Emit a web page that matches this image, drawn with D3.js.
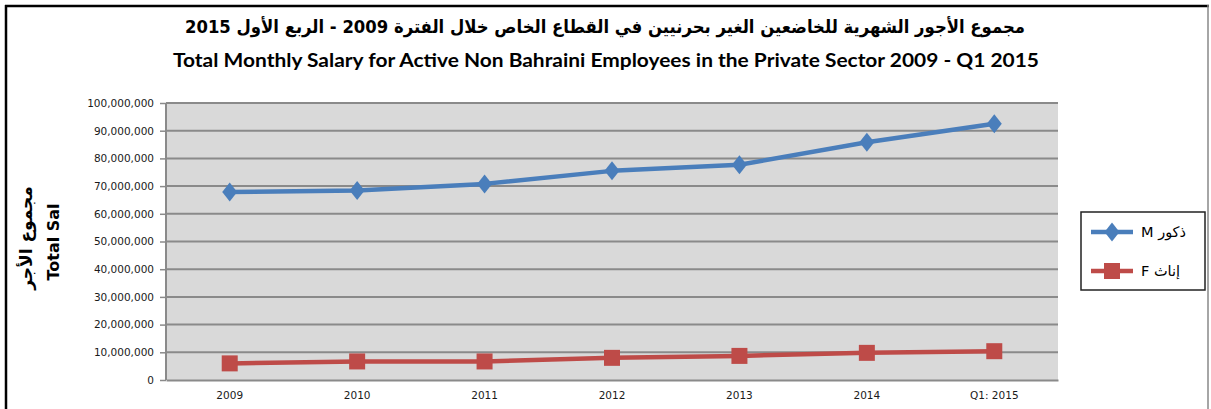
<!DOCTYPE html>
<html>
<head>
<meta charset="utf-8">
<script src="https://cdn.jsdelivr.net/npm/d3@7/dist/d3.min.js"></script>
<style>
  html, body { margin: 0; padding: 0; background: #fff; }
  svg { display: block; }
</style>
</head>
<body>
<svg id="chart" width="1211" height="409"></svg>
<script>
// Periods shown on the horizontal axis
const periods = ["2009", "2010", "2011", "2012", "2013", "2014", "Q1: 2015"];
// Total monthly salary, males (BHD)
const maleValues = [67900000, 68400000, 70800000, 75500000, 77700000, 85800000, 92500000];
// Total monthly salary, females (BHD)
const femaleValues = [6000000, 6700000, 6700000, 8000000, 8700000, 9800000, 10400000];
// Y axis ticks
const yTicks = [0, 10000000, 20000000, 30000000, 40000000, 50000000, 60000000, 70000000, 80000000, 90000000, 100000000];
const titleAr = "مجموع الأجور الشهرية للخاضعين الغير بحرنيين في القطاع الخاص خلال الفترة 2009 - الربع الأول 2015";
const titleEn = "Total Monthly Salary for Active  Non Bahraini Employees in the Private Sector 2009 - Q1 2015";
const seriesLabels = ["M ذكور", "F إناث"];

const svg = d3.select("#chart");
const W = 1211, H = 409;
const plot = { left: 166, right: 1058, top: 103, bottom: 380 };

// Marker shapes: a slightly tall diamond and a square
const diamond = {
  draw(ctx, size) {
    const w = 7.5, h = 9.5;
    ctx.moveTo(0, -h); ctx.lineTo(w, 0); ctx.lineTo(0, h); ctx.lineTo(-w, 0); ctx.closePath();
  }
};

// Outer chart frame
svg.append("rect").attr("x", 0).attr("y", 0).attr("width", W).attr("height", H).attr("fill", "#fff");
svg.append("line").attr("x1", 6).attr("x2", 6).attr("y1", 5).attr("y2", H).attr("stroke", "#000").attr("stroke-width", 2.5);
svg.append("line").attr("x1", 5).attr("x2", 1209).attr("y1", 6).attr("y2", 6).attr("stroke", "#000").attr("stroke-width", 2.5);
svg.append("line").attr("x1", 1208).attr("x2", 1208).attr("y1", 5).attr("y2", H).attr("stroke", "#888").attr("stroke-width", 1.5);

// Titles
svg.append("text")
  .attr("x", 605).attr("y", 33)
  .attr("text-anchor", "middle")
  .attr("direction", "rtl")
  .attr("font-family", "DejaVu Sans, Noto Sans, sans-serif")
  .attr("font-weight", "bold")
  .attr("font-size", 18)
  .attr("textLength", 840)
  .attr("lengthAdjust", "spacingAndGlyphs")
  .attr("fill", "#000")
  .text(titleAr);

svg.append("text")
  .attr("x", 606).attr("y", 67)
  .attr("text-anchor", "middle")
  .attr("font-family", "Lato, Open Sans, sans-serif")
  .attr("font-weight", "bold")
  .attr("font-size", 18)
  .attr("textLength", 866)
  .attr("lengthAdjust", "spacingAndGlyphs")
  .attr("fill", "#000")
  .text(titleEn);

// Scales
const x = d3.scaleBand().domain(periods).range([plot.left, plot.right]);
const y = d3.scaleLinear().domain([0, 100000000]).range([plot.bottom, plot.top]);

// Plot background
svg.append("rect")
  .attr("x", plot.left).attr("y", plot.top)
  .attr("width", plot.right - plot.left).attr("height", plot.bottom - plot.top)
  .attr("fill", "#d9d9d9");

// Gridlines
svg.append("g").selectAll("line").data(yTicks.filter(d => d > 0)).join("line")
  .attr("x1", plot.left).attr("x2", plot.right)
  .attr("y1", d => y(d)).attr("y2", d => y(d))
  .attr("stroke", "#8a8a8a").attr("stroke-width", 2);

// Y axis
const fmt = d3.format(",");
const yAxis = svg.append("g")
  .attr("transform", `translate(${plot.left},0)`)
  .call(d3.axisLeft(y).tickValues(yTicks).tickFormat(d => fmt(d)).tickSize(6).tickPadding(6));
yAxis.select(".domain").attr("stroke", "#8a8a8a").attr("stroke-width", 2).attr("d", `M0,${plot.top}V${plot.bottom}`);
yAxis.selectAll(".tick line").attr("stroke", "#8a8a8a").attr("stroke-width", 1.5);
yAxis.selectAll(".tick text")
  .attr("font-family", "DejaVu Sans, sans-serif")
  .attr("font-size", 10.5)
  .attr("fill", "#1a1a1a");

// X axis
const xAxis = svg.append("g")
  .attr("transform", `translate(0,${plot.bottom})`)
  .call(d3.axisBottom(x).tickSize(0).tickPadding(12));
xAxis.select(".domain").attr("stroke", "#8a8a8a").attr("stroke-width", 2);
xAxis.selectAll(".tick text")
  .attr("font-family", "DejaVu Sans, sans-serif")
  .attr("font-size", 10.5)
  .attr("fill", "#1a1a1a");

// Y axis title (two lines, rotated)
const yTitle = svg.append("g").attr("transform", "translate(0,238) rotate(-90)");
yTitle.append("text")
  .attr("x", 0).attr("y", 32)
  .attr("text-anchor", "middle")
  .attr("font-family", "DejaVu Sans, sans-serif")
  .attr("font-weight", "bold")
  .attr("font-size", 17)
  .attr("fill", "#000")
  .text("مجموع الأجر");
yTitle.append("text")
  .attr("x", -4).attr("y", 59)
  .attr("text-anchor", "middle")
  .attr("font-family", "DejaVu Sans, sans-serif")
  .attr("font-weight", "bold")
  .attr("font-size", 16)
  .attr("fill", "#000")
  .text("Total Sal");

// Series
const series = [
  { values: maleValues, color: "#4a7ebb", shape: diamond, size: 0, label: seriesLabels[0] },
  { values: femaleValues, color: "#be4b48", shape: d3.symbolSquare, size: 256, label: seriesLabels[1] }
];

const line = d3.line()
  .x((d, i) => x(periods[i]) + x.bandwidth() / 2)
  .y(d => y(d));

series.forEach(s => {
  svg.append("path")
    .datum(s.values)
    .attr("d", line)
    .attr("fill", "none")
    .attr("stroke", s.color)
    .attr("stroke-width", 4.5)
    .attr("stroke-linejoin", "round");
  svg.append("g").selectAll("path").data(s.values).join("path")
    .attr("transform", (d, i) => `translate(${x(periods[i]) + x.bandwidth() / 2},${y(d)})`)
    .attr("d", d3.symbol().type(s.shape).size(s.size))
    .attr("fill", s.color);
});

// Legend
const lg = svg.append("g");
lg.append("rect")
  .attr("x", 1081).attr("y", 212).attr("width", 124).attr("height", 78)
  .attr("fill", "#fff").attr("stroke", "#222").attr("stroke-width", 1.5);
series.forEach((s, i) => {
  const ly = 232 + i * 39;
  lg.append("line")
    .attr("x1", 1091).attr("x2", 1133).attr("y1", ly).attr("y2", ly)
    .attr("stroke", s.color).attr("stroke-width", 4.5);
  lg.append("path")
    .attr("transform", `translate(1112,${ly})`)
    .attr("d", d3.symbol().type(s.shape).size(s.size))
    .attr("fill", s.color);
  lg.append("text")
    .attr("x", 1141).attr("y", ly + 5)
    .attr("font-family", "DejaVu Sans, sans-serif")
    .attr("font-size", 14.5)
    .attr("fill", "#000")
    .text(s.label);
});
</script>
</body>
</html>
